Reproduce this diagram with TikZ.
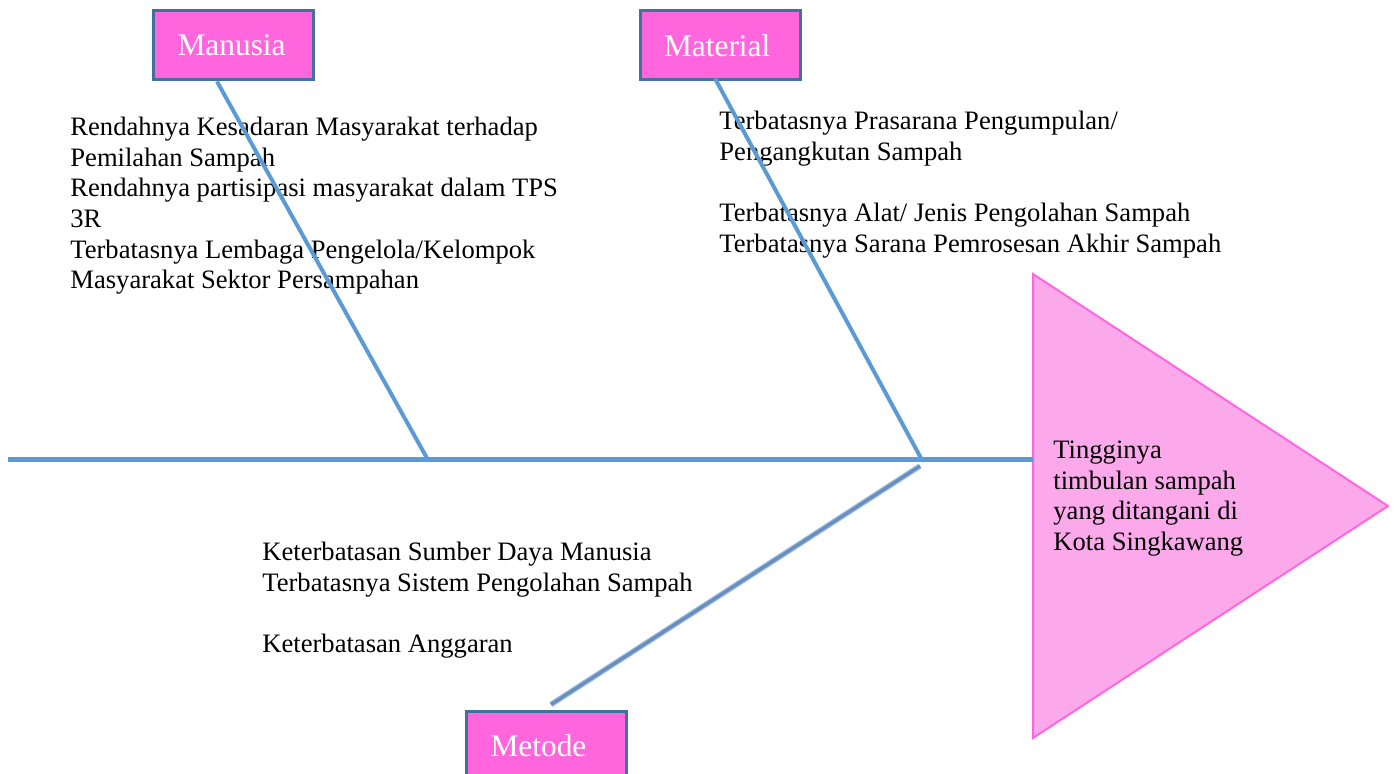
\documentclass[tikz,border=0pt]{standalone}
\usepackage{fontspec}
\setmainfont{Liberation Serif}
\definecolor{bone}{HTML}{5B9BD5}
\definecolor{metbone}{HTML}{6A8DBE}
\definecolor{metedge}{HTML}{9CC0E6}
\definecolor{boxfill}{HTML}{FF66DD}
\definecolor{boxline}{HTML}{41719C}
\definecolor{headfill}{HTML}{FBA9EA}
\definecolor{headline}{HTML}{FF66DD}
\newcommand{\causefont}{\fontsize{13.3}{15.35}\selectfont}
\newcommand{\catfont}{\fontsize{15.7}{18}\selectfont}
\tikzset{
  category/.style={draw=boxline, line width=1.5pt, fill=boxfill, text=white,
    font=\catfont, align=left, text width=56pt, inner xsep=12pt,
    minimum height=34.5pt},
  causes/.style={anchor=north west, inner sep=0pt, align=left, font=\causefont},
  spine/.style={draw=bone, line width=2.5pt},
  rib/.style={draw=bone, line width=2pt}
}
\begin{document}
\begin{tikzpicture}[x=0.5pt, y=-0.5pt]
  \useasboundingbox (0,0) rectangle (1396,774);
  \draw[headline, line width=1pt, fill=headfill]
    (1033,274) -- (1388,506) -- (1033,738) -- cycle;
  \node[causes] (effect) at (1053,436.5)
    {\strut Tingginya\\timbulan sampah\\yang ditangani di\\Kota Singkawang};

  \node[category] (manusia) at (233.5,45.5) {Manusia};
  \node[category] (material) at (720,45.5) {Material};
  \node[category] (metode) at (546.5,745.5) {Metode};

  \node[causes] (c1) at (70,113.5)
    {\strut Rendahnya Kesadaran Masyarakat terhadap\\
     Pemilahan Sampah\\
     Rendahnya partisipasi masyarakat dalam TPS\\
     3R\\
     Terbatasnya Lembaga Pengelola/Kelompok\\
     Masyarakat Sektor Persampahan};
  \node[causes] (c2) at (719,107.5)
    {\strut Terbatasnya Prasarana Pengumpulan/\\
     Pengangkutan Sampah\\
     ~\\
     Terbatasnya Alat/ Jenis Pengolahan Sampah\\
     Terbatasnya Sarana Pemrosesan Akhir Sampah};
  \node[causes] (c3) at (262,538.5)
    {\strut Keterbatasan Sumber Daya Manusia\\
     Terbatasnya Sistem Pengolahan Sampah\\
     ~\\
     Keterbatasan Anggaran};

  \coordinate (tail) at (8,460);
  \coordinate (head) at (1033,460);
  \coordinate (j1) at (428,460);
  \coordinate (j2) at (922,460);
  \coordinate (j3) at (920,466);

  \draw[spine] (tail) -- (head);
  \draw[rib] ([xshift=-8.25pt]manusia.south) -- (j1);
  \draw[rib] ([xshift=-2.5pt,yshift=1.5pt]material.south) -- (j2);
  \draw[metedge, line width=0.6pt, double=metbone, double distance=1.6pt]
    ([xshift=2.25pt,yshift=2.5pt]metode.north) -- (j3);
\end{tikzpicture}
\end{document}
